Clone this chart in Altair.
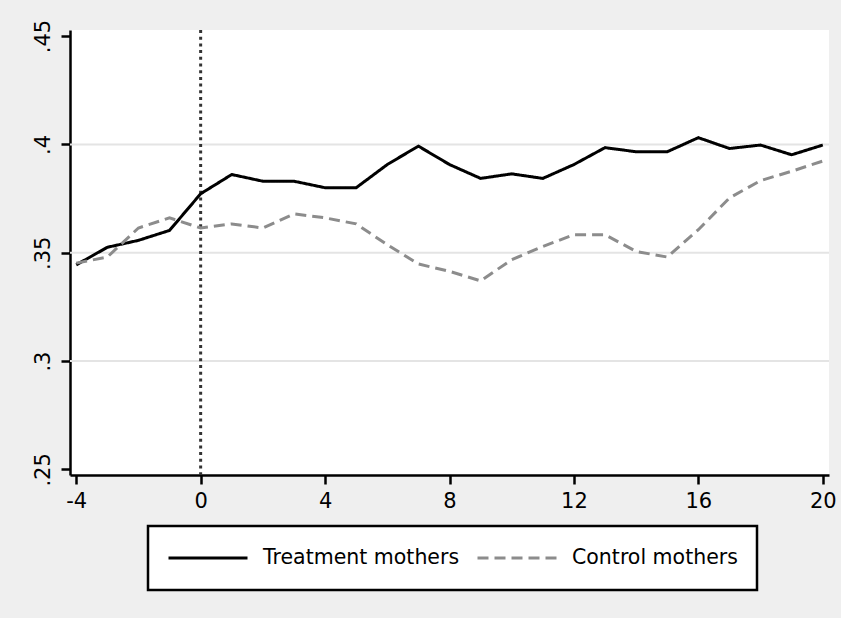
import altair as alt
import pandas as pd

# ---- data ----
months = list(range(-4, 21))
treatment = [0.3444, 0.3525, 0.3557, 0.3603, 0.3772, 0.3861, 0.3830, 0.3830,
             0.3800, 0.3800, 0.3907, 0.3992, 0.3907, 0.3843, 0.3864, 0.3843,
             0.3907, 0.3985, 0.3966, 0.3966, 0.4031, 0.3981, 0.3997, 0.3952,
             0.3997]
control = [0.3452, 0.3480, 0.3614, 0.3661, 0.3614, 0.3633, 0.3614, 0.3679,
           0.3661, 0.3633, 0.3537, 0.3448, 0.3414, 0.3370, 0.3468, 0.3529,
           0.3583, 0.3583, 0.3506, 0.3480, 0.3606, 0.3753, 0.3833, 0.3876,
           0.3923]
series_names = ["Treatment mothers", "Control mothers"]
x_ticks = [-4, 0, 4, 8, 12, 16, 20]
y_ticks = [0.25, 0.30, 0.35, 0.40, 0.45]
grid_values = [0.30, 0.35, 0.40]
event_month = [0]

df = pd.DataFrame({
    "month": months + months,
    "value": treatment + control,
    "group": [series_names[0]] * len(months) + [series_names[1]] * len(months),
})

FONT = "DejaVu Sans"
FS = 21

xscale = alt.Scale(domain=[-4.2, 20.2], nice=False, zero=False)
yscale = alt.Scale(domain=[0.2474, 0.4528], nice=False, zero=False)

xaxis = alt.Axis(values=x_ticks, title=None, grid=False, domainColor="black",
                 domainWidth=2.5, tickColor="black", tickWidth=2.5, tickSize=9,
                 labelFontSize=FS, labelFont=FONT, labelColor="black",
                 labelPadding=6, labelFlush=False, labelOverlap=False,
                 labelExpr="'' + datum.value")
yaxis = alt.Axis(values=y_ticks, title=None, grid=False, domainColor="black",
                 domainWidth=2.5, tickColor="black", tickWidth=2.5, tickSize=9,
                 labelFontSize=FS, labelFont=FONT, labelColor="black",
                 labelAngle=-90, labelAlign="center", labelBaseline="alphabetic",
                 labelPadding=12, labelFlush=False, labelOverlap=False,
                 labelExpr="substring(format(datum.value, '.2~f'), 1)")

grid = alt.Chart(pd.DataFrame({"g": grid_values})).mark_rule(
    color="#e4e4e4", strokeWidth=2
).encode(y=alt.Y("g:Q", scale=yscale, axis=yaxis))

vline = alt.Chart(pd.DataFrame({"m": event_month})).mark_rule(
    color="#333333", strokeWidth=3, strokeDash=[3, 3.7]
).encode(x=alt.X("m:Q", scale=xscale, axis=xaxis))

legend = alt.Legend(title=None, orient="none", legendX=78, legendY=496,
                    direction="horizontal", symbolType="stroke",
                    symbolSize=6241, symbolStrokeWidth=3,
                    labelFontSize=20.5, labelFont=FONT, labelColor="black",
                    labelLimit=400, clipHeight=26,
                    labelOffset=14, columnPadding=16, padding=19,
                    strokeColor="black", fillColor="white")

lines = alt.Chart(df).mark_line(strokeWidth=3).encode(
    x=alt.X("month:Q", scale=xscale, axis=xaxis),
    y=alt.Y("value:Q", scale=yscale, axis=yaxis),
    color=alt.Color("group:N",
                    scale=alt.Scale(domain=series_names, range=["#000000", "#8c8c8c"]),
                    legend=legend),
    strokeDash=alt.StrokeDash("group:N",
                              scale=alt.Scale(domain=series_names, range=[[1, 0], [11, 6]]),
                              legend=legend),
)

chart = alt.layer(grid, vline, lines).properties(
    width=759, height=445,
    padding={"left": 70, "top": 30, "right": 12, "bottom": 143},
    autosize=alt.AutoSizeParams(type="none"),
    background="#efefef",
).configure(
    font=FONT,
    view=alt.ViewConfig(fill="white", strokeWidth=0),
    legend=alt.LegendConfig(strokeWidth=2.5),
)

chart.save("out.html", embed_options={"renderer": "svg", "actions": False})
